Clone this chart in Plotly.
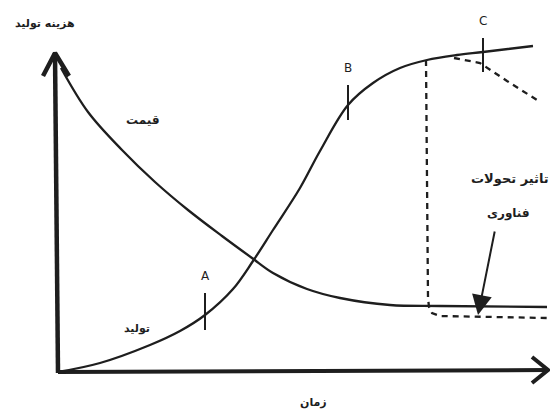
import plotly.graph_objects as go

# Values (time units -> x, cost/level units -> y)
price_t = [3, 30, 64, 97, 130, 164, 194, 215, 249, 282, 332, 382, 489]
price_v = [305, 261, 223, 191, 163, 137, 115, 100, 84, 75, 68, 67, 66]

prod_t = [0, 42, 92, 122, 147, 175, 195, 215, 242, 262, 290, 315, 342, 369, 399, 425, 475]
prod_v = [1, 10, 28, 42, 58, 84, 112, 143, 185, 222, 268, 290, 305, 313, 318, 321, 327]

tech_drop_t = [368, 370, 371, 374, 382, 489]
tech_drop_v = [313, 75, 66, 60, 57, 55]

tech_sat_t = [396, 422, 449, 479]
tech_sat_v = [315, 310, 292, 273]

mark_names = ["A", "B", "C"]
mark_t = [147, 290, 425]
mark_lo = [43, 253, 301]
mark_hi = [80, 288, 335]

yaxis_t = [0, -3]
yaxis_v = [0, 320]
yhead_t = [-15, -3, 11]
yhead_v = [297, 320, 297]

xaxis_t = [0, 490]
xaxis_v = [1, 3]
xhead_t = [474, 490, 474]
xhead_v = [16, 3, -10]

INK = "#1e1e1e"
FONT = "DejaVu Sans"

fig = go.Figure()

# axes
fig.add_trace(go.Scatter(x=yaxis_t, y=yaxis_v, mode="lines",
                         line=dict(color=INK, width=4.5), hoverinfo="skip"))
fig.add_trace(go.Scatter(x=yhead_t, y=yhead_v, mode="lines",
                         line=dict(color=INK, width=4.5), hoverinfo="skip"))
fig.add_trace(go.Scatter(x=xaxis_t, y=xaxis_v, mode="lines",
                         line=dict(color=INK, width=4), hoverinfo="skip"))
fig.add_trace(go.Scatter(x=xhead_t, y=xhead_v, mode="lines",
                         line=dict(color=INK, width=4), hoverinfo="skip"))

# curves
fig.add_trace(go.Scatter(x=price_t, y=price_v, mode="lines", line_shape="spline",
                         line=dict(color=INK, width=2.3), hoverinfo="skip"))
fig.add_trace(go.Scatter(x=prod_t, y=prod_v, mode="lines", line_shape="spline",
                         line=dict(color=INK, width=2.3), hoverinfo="skip"))
fig.add_trace(go.Scatter(x=tech_drop_t, y=tech_drop_v, mode="lines",
                         line=dict(color=INK, width=2.3, dash="6px,5px"), hoverinfo="skip"))
fig.add_trace(go.Scatter(x=tech_sat_t, y=tech_sat_v, mode="lines",
                         line=dict(color=INK, width=2.3, dash="6px,5px"), hoverinfo="skip"))

# tick marks A, B, C
for name, t, lo, hi in zip(mark_names, mark_t, mark_lo, mark_hi):
    fig.add_trace(go.Scatter(x=[t, t], y=[lo, hi], mode="lines",
                             line=dict(color=INK, width=2), hoverinfo="skip"))
    fig.add_annotation(x=t, y=hi + 8, text=name, showarrow=False, yanchor="bottom",
                       font=dict(family=FONT, size=12, color=INK))

labels = [
    ("هزینه تولید", -13, 350, 11),
    ("قیمت", 85, 253, 12),
    ("تولید", 79, 45, 11),
    ("تاثیر تحولات", 452, 195, 13),
    ("فناوری", 450, 160, 12),
    ("زمان", 255, -29, 11),
]
for txt, t, v, s in labels:
    fig.add_annotation(x=t, y=v, text="<b>%s</b>" % txt, showarrow=False,
                       font=dict(family=FONT, size=s, color=INK))

# arrow pointing to the technology effect
fig.add_annotation(x=420, y=58, ax=437, ay=143, axref="x", ayref="y",
                   xref="x", yref="y", text="", showarrow=True,
                   arrowhead=2, arrowsize=2, arrowwidth=2, arrowcolor=INK)

fig.update_layout(
    width=550, height=411,
    margin=dict(l=0, r=0, t=0, b=0),
    paper_bgcolor="white", plot_bgcolor="white",
    showlegend=False,
    xaxis=dict(range=[-58, 492], visible=False, fixedrange=True),
    yaxis=dict(range=[-38, 373], visible=False, fixedrange=True),
)

fig.write_html("out.html", config={"displayModeBar": False},
               post_script="document.body.style.margin='0';document.body.style.overflow='hidden';")
